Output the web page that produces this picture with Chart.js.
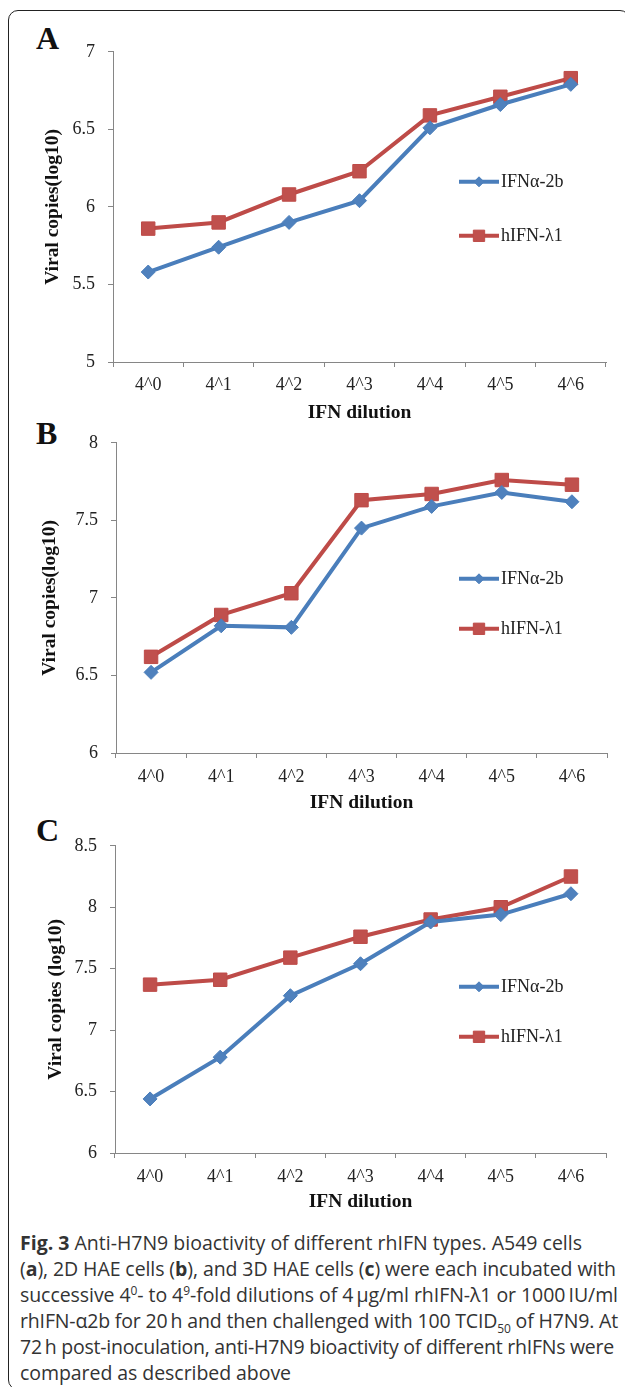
<!DOCTYPE html>
<html><head><meta charset="utf-8">
<script src="https://cdn.jsdelivr.net/npm/chart.js@4.4.0/dist/chart.umd.min.js"></script>
<style>
html,body{margin:0;padding:0;background:#fff;width:625px;height:1387px;overflow:hidden;position:relative;}
#frame{position:absolute;left:8px;top:10px;width:620px;height:1378px;border:1.5px solid #222;border-radius:10px;}
canvas{position:absolute;left:0;}
.letter{position:absolute;left:36px;font:bold 32px "Liberation Serif",serif;line-height:32px;color:#111;}
#caption{position:absolute;left:20px;top:1230px;font:19.5px "Open Sans",sans-serif;line-height:26px;color:#333;white-space:nowrap;}
#caption .ln{display:block;height:26px;}
#caption .ln span.t{display:inline-block;}
#caption sup,#caption sub{font-size:12px;line-height:0;}
</style></head>
<body>
<div id="frame"></div>
<div class="letter" style="top:22px">A</div>
<div class="letter" style="top:417px">B</div>
<div class="letter" style="top:814px">C</div>
<canvas id="cA" width="625" height="397" style="top:28px"></canvas>
<canvas id="cB" width="625" height="396" style="top:419px"></canvas>
<canvas id="cC" width="625" height="392" style="top:822px"></canvas>
<div id="caption">
<div class="ln"><span class="t" data-w="562"><b>Fig. 3</b> Anti-H7N9 bioactivity of different rhIFN types. A549 cells</span></div>
<div class="ln"><span class="t" data-w="596">(<b>a</b>), 2D HAE cells (<b>b</b>), and 3D HAE cells (<b>c</b>) were each incubated with</span></div>
<div class="ln"><span class="t" data-w="598">successive 4<sup>0</sup>- to 4<sup>9</sup>-fold dilutions of 4&thinsp;μg/ml rhIFN-λ1 or 1000&thinsp;IU/ml</span></div>
<div class="ln"><span class="t" data-w="598">rhIFN-α2b for 20&thinsp;h and then challenged with 100 TCID<sub>50</sub> of H7N9. At</span></div>
<div class="ln"><span class="t" data-w="594">72&thinsp;h post-inoculation, anti-H7N9 bioactivity of different rhIFNs were</span></div>
<div class="ln"><span class="t" data-w="271">compared as described above</span></div>
</div>
<script>
const categories = ['4^0','4^1','4^2','4^3','4^4','4^5','4^6'];
const seriesNames = ['IFNα-2b','hIFN-λ1'];
const A_alpha  = [5.58, 5.74, 5.90, 6.04, 6.51, 6.66, 6.79];
const A_lambda = [5.86, 5.90, 6.08, 6.23, 6.59, 6.71, 6.83];
const B_alpha  = [6.52, 6.82, 6.81, 7.45, 7.59, 7.68, 7.62];
const B_lambda = [6.62, 6.89, 7.03, 7.63, 7.67, 7.76, 7.73];
const C_alpha  = [6.44, 6.78, 7.28, 7.54, 7.88, 7.94, 8.11];
const C_lambda = [7.37, 7.41, 7.59, 7.76, 7.90, 8.00, 8.25];
const yTitleA = 'Viral copies(log10)';
const yTitleB = 'Viral copies(log10)';
const yTitleC = 'Viral copies (log10)';
const xTitle = 'IFN dilution';

// fit caption lines to the reference line lengths
document.querySelectorAll('#caption .t').forEach(el => {
  const target = +el.dataset.w;
  const natural = el.getBoundingClientRect().width;
  const n = el.textContent.length;
  if (n > 1) el.style.letterSpacing = ((target - natural) / n) + 'px';
});

const BLUE = '#4A7EBB', RED = '#BE4B48';
const AXIS = '#868686';
const SERIF = '"Liberation Serif", "Times New Roman", serif';
Chart.defaults.font.family = SERIF;

const legendPlugin = {
  id: 'seriesKey',
  afterDraw(chart, args, opts) {
    const ctx = chart.ctx;
    chart.data.datasets.forEach((ds, i) => {
      const y = chart.chartArea.top + opts.offsets[i];
      ctx.save();
      ctx.strokeStyle = ds.borderColor;
      ctx.lineWidth = ds.borderWidth;
      ctx.beginPath(); ctx.moveTo(opts.x0, y); ctx.lineTo(opts.x1, y); ctx.stroke();
      ctx.fillStyle = ds.pointBackgroundColor;
      ctx.strokeStyle = ds.pointBorderColor;
      ctx.lineWidth = 1;
      Chart.helpers.drawPoint(ctx, {pointStyle: ds.pointStyle, radius: opts.radii[i], borderWidth: 1, rotation: 0}, (opts.x0 + opts.x1) / 2, y);
      ctx.fillStyle = '#222';
      ctx.font = '18px ' + SERIF;
      ctx.textBaseline = 'middle';
      ctx.textAlign = 'left';
      ctx.fillText(ds.label, opts.x1 + 2, y);
      ctx.restore();
    });
  }
};

function makeChart(id, alpha, lambda, cfg) {
  new Chart(document.getElementById(id), {
    type: 'line',
    data: {
      labels: categories,
      datasets: [
        {label: seriesNames[0], data: alpha, borderColor: BLUE, backgroundColor: BLUE, borderWidth: 4,
         pointStyle: 'rectRot', pointRadius: 7, pointBackgroundColor: '#4F81BD', pointBorderColor: BLUE, pointBorderWidth: 1, tension: 0},
        {label: seriesNames[1], data: lambda, borderColor: RED, backgroundColor: RED, borderWidth: 4,
         pointStyle: 'rect', pointRadius: 9.5, pointBackgroundColor: '#C0504D', pointBorderColor: RED, pointBorderWidth: 1, tension: 0}
      ]
    },
    options: {
      responsive: false, animation: false, devicePixelRatio: 1,
      layout: {padding: {left: 0, right: cfg.padR, top: 20, bottom: 0}},
      plugins: {legend: {display: false}, tooltip: {enabled: false},
        seriesKey: {x0: 459, x1: 499, offsets: cfg.legendOffsets, radii: [5, 8]}},
      scales: {
        x: {
          type: 'category', offset: true,
          grid: {display: true, drawOnChartArea: false, drawTicks: true, tickLength: 5, color: AXIS, offset: true},
          border: {display: true, color: AXIS, width: 1},
          ticks: {color: '#222', font: {family: SERIF, size: 18}, padding: cfg.xTickPad, maxRotation: 0, autoSkip: false},
          title: {display: true, text: xTitle, color: '#111', font: {family: SERIF, size: 19.5, weight: 'bold', lineHeight: 1.2}, padding: 0},
          afterFit(s) { s.height = cfg.xH; }
        },
        y: {
          min: cfg.min, max: cfg.max,
          ticks: {stepSize: 0.5, color: '#222', font: {family: SERIF, size: 18}, padding: 13,
                  callback: v => String(Math.round(v * 10) / 10)},
          grid: {display: true, drawOnChartArea: false, drawTicks: true, tickLength: 5, color: AXIS},
          border: {display: true, color: AXIS, width: 1},
          title: {display: true, text: cfg.yTitle, color: '#111', font: {family: SERIF, size: 19.5, weight: 'bold', lineHeight: 1.2}, padding: {top: cfg.yTitlePad, bottom: 0}},
          afterFit(s) { s.width = cfg.yW; }
        }
      }
    },
    plugins: [legendPlugin]
  });
}

makeChart('cA', A_alpha, A_lambda, {min: 5, max: 7, padR: 19, yW: 113, xH: 63, xTickPad: 7, yTitlePad: 41, yTitle: yTitleA, legendOffsets: [130, 184]});
makeChart('cB', B_alpha, B_lambda, {min: 6, max: 8, padR: 18, yW: 116, xH: 62, xTickPad: 8, yTitlePad: 38, yTitle: yTitleB, legendOffsets: [136, 186]});
makeChart('cC', C_alpha, C_lambda, {min: 6, max: 8.5, padR: 19, yW: 115, xH: 61, xTickPad: 8, yTitlePad: 44, yTitle: yTitleC, legendOffsets: [141, 191]});
</script>
</body></html>
